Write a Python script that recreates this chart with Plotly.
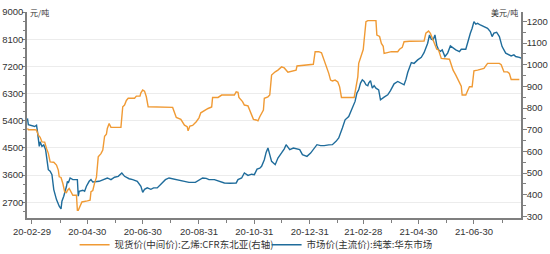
import plotly.graph_objects as go

# Blue: 市场价(主流价):纯苯:华东市场 (元/吨, left axis)
benzene_dates = [
    "2020-02-24","2020-02-25","2020-03-03","2020-03-05","2020-03-06","2020-03-08","2020-03-09","2020-03-11",
    "2020-03-13","2020-03-15","2020-03-16","2020-03-18","2020-03-20","2020-03-22","2020-03-24","2020-03-27",
    "2020-03-30","2020-04-01","2020-04-02","2020-04-04","2020-04-07","2020-04-08","2020-04-09","2020-04-11",
    "2020-04-14","2020-04-19","2020-04-20","2020-04-21","2020-04-25","2020-04-27","2020-04-29","2020-05-02",
    "2020-05-04","2020-05-06","2020-05-13","2020-05-17","2020-05-22","2020-05-26","2020-05-30","2020-06-03",
    "2020-06-07","2020-06-10","2020-06-13","2020-06-15","2020-06-19","2020-06-24","2020-06-28","2020-06-30",
    "2020-07-02","2020-07-05","2020-07-09","2020-07-12","2020-07-16","2020-07-20","2020-07-25","2020-07-29",
    "2020-08-03","2020-08-09","2020-08-14","2020-08-20","2020-08-27","2020-09-01","2020-09-04","2020-09-08",
    "2020-09-11","2020-09-17","2020-09-22","2020-09-28","2020-10-04","2020-10-11","2020-10-13","2020-10-17",
    "2020-10-20","2020-10-24","2020-10-28","2020-10-31","2020-11-03","2020-11-06","2020-11-08","2020-11-11",
    "2020-11-13","2020-11-15","2020-11-17","2020-11-19","2020-11-23","2020-11-26","2020-11-30","2020-12-03",
    "2020-12-05","2020-12-09","2020-12-13","2020-12-16","2020-12-20","2020-12-23","2020-12-28","2021-01-01",
    "2021-01-04","2021-01-08","2021-01-12","2021-01-16","2021-01-21","2021-01-25","2021-01-29","2021-02-01",
    "2021-02-05","2021-02-08","2021-02-12","2021-02-16","2021-02-19","2021-02-21","2021-02-23","2021-02-25",
    "2021-02-27","2021-03-01","2021-03-03","2021-03-05","2021-03-06","2021-03-08","2021-03-10","2021-03-12",
    "2021-03-14","2021-03-17","2021-03-19","2021-03-23","2021-03-27","2021-03-30","2021-04-03","2021-04-07",
    "2021-04-10","2021-04-14","2021-04-16","2021-04-18","2021-04-22","2021-04-25","2021-04-29","2021-05-03",
    "2021-05-06","2021-05-10","2021-05-12","2021-05-14","2021-05-16","2021-05-18","2021-05-20","2021-05-22",
    "2021-05-24","2021-05-26","2021-05-29","2021-06-01","2021-06-04","2021-06-07","2021-06-10","2021-06-14",
    "2021-06-16","2021-06-21","2021-06-23","2021-06-26","2021-06-28","2021-06-30","2021-07-02","2021-07-04",
    "2021-07-07","2021-07-11","2021-07-15","2021-07-18","2021-07-20","2021-07-22","2021-07-25","2021-07-28",
    "2021-07-31","2021-08-04","2021-08-07","2021-08-10","2021-08-13","2021-08-15","2021-08-19","2021-08-21",
]
benzene_values = [
    5480,5270,5210,5250,5050,4550,4700,4550,
    4600,4440,4220,3780,3730,3616,3120,2790,
    2570,2480,2735,2900,3230,3395,3340,3505,
    3450,3450,2900,3065,3100,3065,3230,3395,
    3450,3370,3395,3450,3505,3450,3530,3560,
    3670,3560,3505,3480,3450,3395,3230,3030,
    3130,3177,3130,3177,3177,3286,3450,3505,
    3470,3430,3395,3360,3360,3450,3505,3490,
    3450,3450,3390,3340,3330,3340,3450,3505,
    3670,3590,3630,3616,3800,3830,3890,4110,
    4350,4500,4277,4055,3946,4165,4335,4470,
    4607,4442,4497,4470,4442,4277,4220,4330,
    4465,4607,4575,4575,4600,4607,4717,4828,
    5160,5430,5540,5820,6040,6315,6424,6645,
    6754,6700,6590,6560,6650,6730,6480,6560,
    6480,6424,6093,6180,6258,6400,6622,6700,
    6650,6590,6760,6995,7325,7300,7415,7500,
    7655,7967,8240,8100,8075,8240,7900,7745,
    7700,7745,7525,7640,7877,7800,7745,7690,
    7767,7767,8020,8296,8460,8680,8600,8626,
    8570,8520,8460,8350,8186,8300,8330,8186,
    7855,7637,7580,7547,7580,7525,7500,7470,
]

# Orange: 现货价(中间价):乙烯:CFR东北亚 (美元/吨, right axis)
ethylene_dates = [
    "2020-02-24","2020-02-25","2020-03-03","2020-03-05","2020-03-07","2020-03-09","2020-03-11","2020-03-14",
    "2020-03-16","2020-03-18","2020-03-20","2020-03-24","2020-03-27","2020-03-29","2020-03-30","2020-04-01",
    "2020-04-03","2020-04-05","2020-04-07","2020-04-08","2020-04-10","2020-04-12","2020-04-14","2020-04-18",
    "2020-04-19","2020-04-20","2020-04-22","2020-04-24","2020-04-30","2020-05-03","2020-05-04","2020-05-06",
    "2020-05-08","2020-05-10","2020-05-12","2020-05-15","2020-05-17","2020-05-19","2020-05-21","2020-05-22",
    "2020-05-24","2020-05-26","2020-06-06","2020-06-07","2020-06-08","2020-06-10","2020-06-12","2020-06-14",
    "2020-06-21","2020-06-23","2020-06-27","2020-06-28","2020-06-30","2020-07-02","2020-07-04","2020-07-06",
    "2020-08-02","2020-08-04","2020-08-06","2020-08-11","2020-08-13","2020-08-15","2020-08-18","2020-08-19",
    "2020-08-21","2020-08-24","2020-08-28","2020-08-31","2020-09-02","2020-09-06","2020-09-10","2020-09-14",
    "2020-09-15","2020-09-21","2020-09-25","2020-10-09","2020-10-11","2020-10-13","2020-10-14","2020-10-18",
    "2020-10-20","2020-10-24","2020-10-26","2020-10-28","2020-10-30","2020-11-02","2020-11-04","2020-11-06",
    "2020-11-10","2020-11-11","2020-11-15","2020-11-17","2020-11-19","2020-11-23","2020-11-26","2020-11-30",
    "2020-12-03","2020-12-07","2020-12-11","2020-12-16","2020-12-17","2020-12-24","2021-01-04","2021-01-06",
    "2021-01-10","2021-01-13","2021-01-17","2021-01-19","2021-01-21","2021-01-23","2021-01-25","2021-01-28",
    "2021-01-31","2021-02-02","2021-02-04","2021-02-18","2021-02-19","2021-02-22","2021-02-23","2021-02-26",
    "2021-02-28","2021-03-01","2021-03-03","2021-03-05","2021-03-14","2021-03-15","2021-03-18","2021-03-20",
    "2021-03-22","2021-03-23","2021-03-31","2021-04-07","2021-04-09","2021-04-12","2021-04-14","2021-04-20",
    "2021-05-06","2021-05-08","2021-05-11","2021-05-13","2021-05-15","2021-05-17","2021-05-20","2021-05-22",
    "2021-05-25","2021-06-03","2021-06-05","2021-06-07","2021-06-10","2021-06-13","2021-06-16","2021-06-17",
    "2021-06-21","2021-06-23","2021-06-25","2021-06-28","2021-06-30","2021-07-04","2021-07-11","2021-07-15",
    "2021-07-28","2021-07-30","2021-08-02","2021-08-06","2021-08-08","2021-08-10","2021-08-19",
]
ethylene_values = [
    706,700,700,698,675,665,644,643,
    614,591,552,550,537,514,483,480,
    452,414,410,420,429,410,398,398,
    329,329,350,367,372,375,414,420,
    455,480,575,590,606,670,680,706,
    729,711,711,760,806,814,835,845,
    845,855,855,870,883,878,852,806,
    803,780,757,748,735,721,714,695,
    717,720,737,755,778,790,798,805,
    849,849,860,860,875,873,849,830,
    814,810,791,775,748,745,741,760,
    791,845,852,860,952,967,975,990,
    985,965,970,975,994,998,1002,1060,
    1060,1055,1010,985,960,929,925,929,
    920,898,849,849,870,944,1006,1052,
    1070,1114,1198,1203,1203,1137,1130,1098,
    1085,1052,1060,1060,1071,1080,1106,1108,
    1109,1145,1155,1145,1122,1100,1071,1068,
    1029,1025,998,975,952,929,901,860,
    860,880,898,898,972,975,983,1006,
    1006,1000,967,967,960,932,932,
]

x_ticks = ["2020-02-29","2020-04-30","2020-06-30","2020-08-31","2020-10-31",
           "2020-12-31","2021-02-28","2021-04-30","2021-06-30"]
x_minor = ["2020-03-31","2020-05-31","2020-07-31","2020-09-30","2020-11-30",
           "2021-01-31","2021-03-31","2021-05-31","2021-07-31"]

ORANGE = "#F09A34"
BLUE = "#1F6C9B"
AXIS = "#7f7f7f"
TXT = "#333333"
FONT = "Noto Sans CJK SC, Noto Sans, sans-serif"
NUMFONT = "Liberation Sans, Arial, sans-serif"

fig = go.Figure()
fig.add_trace(go.Scatter(
    x=ethylene_dates, y=ethylene_values, yaxis="y2", mode="lines",
    name="现货价(中间价):乙烯:CFR东北亚(右轴)",
    line=dict(color=ORANGE, width=1.4),
))
fig.add_trace(go.Scatter(
    x=benzene_dates, y=benzene_values, yaxis="y", mode="lines",
    name="市场价(主流价):纯苯:华东市场",
    line=dict(color=BLUE, width=1.4),
))

fig.update_layout(
    width=550, height=254,
    margin=dict(l=27, r=29, t=12, b=36, autoexpand=False),
    paper_bgcolor="white", plot_bgcolor="white",
    font=dict(family=FONT, size=10, color=TXT),
    showlegend=True,
    legend=dict(orientation="h", x=0.485, xanchor="center", y=-0.2, yanchor="bottom",
                font=dict(size=9.5, color=TXT, family=FONT), itemwidth=30, tracegroupgap=0,
                entrywidth=147, entrywidthmode="pixels",
                bgcolor="rgba(0,0,0,0)"),
    xaxis=dict(
        type="date", range=["2020-02-23 12:00", "2021-08-20 20:00"],
        tickvals=x_ticks, tickformat="%y-%m-%d", automargin=False,
        ticks="outside", ticklen=4, tickcolor=AXIS, tickwidth=1,
        showline=True, linecolor=AXIS, linewidth=1.5,
        showgrid=False, zeroline=False,
        tickfont=dict(size=9.5, color=TXT, family=NUMFONT),
        minor=dict(tickmode="array", tickvals=x_minor, ticks="outside",
                   ticklen=3, tickcolor=AXIS, showgrid=False),
    ),
    yaxis=dict(
        range=[2180, 9000], tick0=0, dtick=900, automargin=False,
        ticks="outside", ticklen=3, tickcolor=AXIS, ticklabelstandoff=-3,
        showline=True, linecolor=AXIS, linewidth=1.5,
        showgrid=True, gridcolor="#ececec", gridwidth=1, zeroline=False,
        tickfont=dict(size=9.5, color=TXT, family=NUMFONT),
        minor=dict(dtick=300, tick0=0, ticks="outside", ticklen=2,
                   tickcolor=AXIS, showgrid=False),
    ),
    yaxis2=dict(
        overlaying="y", side="right", anchor="x", automargin=False,
        range=[293, 1243], tick0=0, dtick=100,
        ticks="outside", ticklen=4, tickcolor=AXIS, ticklabelstandoff=-2,
        showline=True, linecolor=AXIS, linewidth=1.5,
        showgrid=False, zeroline=False,
        tickfont=dict(size=9.5, color=TXT, family=NUMFONT),
        minor=dict(dtick=50, tick0=0, ticks="outside", ticklen=3,
                   tickcolor=AXIS, showgrid=False),
    ),
    annotations=[
        dict(text="元/吨", xref="paper", yref="paper", x=0.0, y=1.0,
             xanchor="left", yanchor="middle", showarrow=False, xshift=1,
             font=dict(size=8, color=TXT)),
        dict(text="美元/吨", xref="paper", yref="paper", x=1.0, y=1.0,
             xanchor="right", yanchor="middle", showarrow=False, xshift=-1,
             font=dict(size=8, color=TXT)),
    ],
)

fig.write_html("out.html")
